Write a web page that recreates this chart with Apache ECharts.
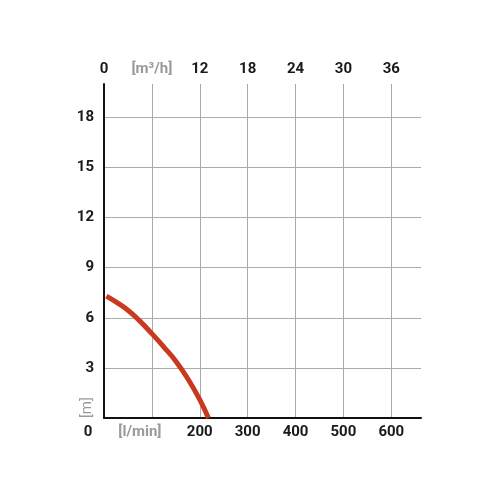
<!DOCTYPE html>
<html>
<head>
<meta charset="utf-8">
<script src="https://cdn.jsdelivr.net/npm/echarts@6/dist/echarts.min.js"></script>
<style>html,body{margin:0;padding:0;background:#fff}#c{width:500px;height:500px}</style>
</head>
<body>
<div id="c"></div>
<script>
var flowLmin = [5, 25, 50, 75, 100, 125, 150, 175, 200, 218];
var headM = [7.3, 6.95, 6.45, 5.8, 5.05, 4.25, 3.4, 2.35, 1.1, 0.0];
var xTicksLmin = [0, 100, 200, 300, 400, 500, 600];
var xTicksM3h = [0, 6, 12, 18, 24, 30, 36];
var yTicks = [0, 3, 6, 9, 12, 15, 18];
var unitLmin = '[l/min]';
var unitM3h = '[m³/h]';
var unitM = '[m]';

var xMax = 662;
var yMax = 20;
var labelFont = 'Roboto, "DejaVu Sans", sans-serif';

var chart = echarts.init(document.getElementById('c'), null, {renderer: 'canvas'});
chart.setOption({
  animation: false,
  grid: {left: 104, right: 79, top: 84, bottom: 82, containLabel: false},
  xAxis: [{
    type: 'value', position: 'bottom', min: 0, max: xMax, interval: 100,
    axisLine: {show: true, onZero: false, lineStyle: {color: '#111', width: 2}},
    axisTick: {show: false},
    splitLine: {show: true, showMinLine: false, showMaxLine: false, lineStyle: {color: '#aaa', width: 1}},
    axisLabel: {
      margin: 7, showMaxLabel: false, color: '#1a1a1a', fontSize: 15, fontWeight: 'bold', fontFamily: labelFont,
      formatter: function (v) {
        if (v === xTicksLmin[1]) return '{g|' + unitLmin + '}';
        if (v === xTicksLmin[0]) return '{z|' + v + '}';
        return xTicksLmin.indexOf(v) >= 0 ? String(v) : '';
      },
      rich: {
        g: {color: '#9a9a9a', fontSize: 15, fontFamily: labelFont, padding: [0, 24, 0, 0]},
        z: {color: '#1a1a1a', fontSize: 15, fontWeight: 'bold', fontFamily: labelFont, padding: [0, 32, 0, 0]}
      }
    }
  }, {
    type: 'value', position: 'top', min: 0, max: xMax * 0.06, interval: 6,
    axisLine: {show: false},
    axisTick: {show: false},
    splitLine: {show: false},
    axisLabel: {
      margin: 7, showMaxLabel: false, color: '#1a1a1a', fontSize: 15, fontWeight: 'bold', fontFamily: labelFont,
      formatter: function (v) {
        if (v === xTicksM3h[1]) return '{g|' + unitM3h + '}';
        return xTicksM3h.indexOf(v) >= 0 ? String(v) : '';
      },
      rich: {g: {color: '#9a9a9a', fontSize: 15, fontFamily: labelFont}}
    }
  }],
  yAxis: {
    type: 'value', min: 0, max: yMax, interval: 3,
    axisLine: {show: true, onZero: false, lineStyle: {color: '#111', width: 2}},
    axisTick: {show: false},
    splitLine: {show: true, showMinLine: false, showMaxLine: false, lineStyle: {color: '#aaa', width: 1}},
    axisLabel: {
      margin: 10, showMinLabel: false, showMaxLabel: false, color: '#1a1a1a', fontSize: 15, fontWeight: 'bold', fontFamily: labelFont,
      formatter: function (v) { return yTicks.indexOf(v) >= 0 ? String(v) : ''; }
    }
  },
  graphic: [{
    type: 'text', left: 80, top: 397, rotation: Math.PI / 2,
    style: {text: unitM, fill: '#9a9a9a', font: '15px ' + labelFont}
  }],
  series: [{
    type: 'line', xAxisIndex: 0, yAxisIndex: 0, smooth: true, showSymbol: false,
    lineStyle: {color: '#c9391f', width: 5, cap: 'butt'},
    data: flowLmin.map(function (x, i) { return [x, headM[i]]; })
  }]
});
</script>
</body>
</html>
